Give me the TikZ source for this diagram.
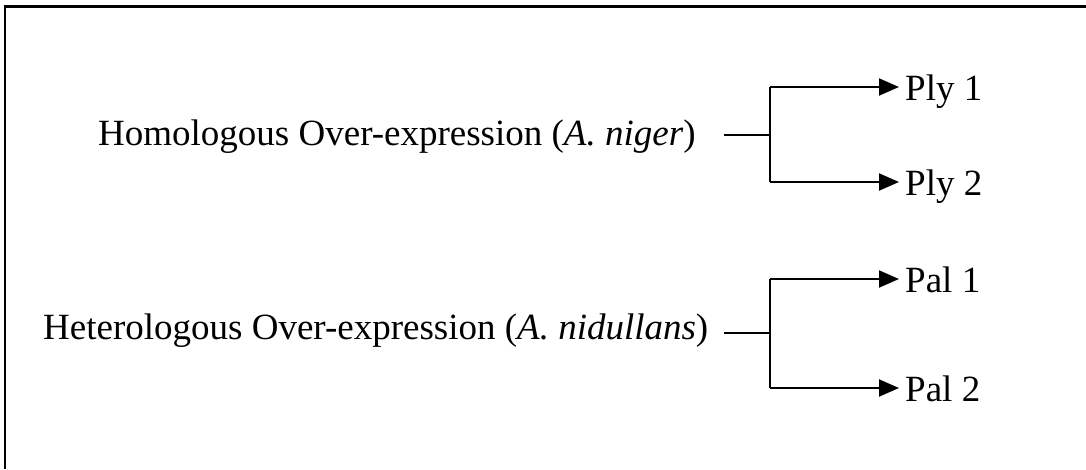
\documentclass[tikz,border=0pt]{standalone}
\usepackage{fontspec}
\setmainfont{Liberation Serif}
\usetikzlibrary{arrows.meta}
\begin{document}
\begin{tikzpicture}[x=1pt,y=-1pt,
  label/.style={anchor=base west,inner sep=0pt,font=\fontsize{37}{40}\selectfont},
  link/.style={line width=2pt},
  branch/.style={line width=2pt,-{Triangle[length=20pt,width=17pt]}}]
\useasboundingbox (0,0) rectangle (1086,469);
% frame (top and left edges)
\draw[line width=2.5pt] (5,469) -- (5,6.5) -- (1086,6.5);

% homologous group
\node[label] (hom) at (98,145) {Homologous Over-expression (\textit{A. niger})};
\node[label] (ply1) at (905,100) {Ply 1};
\node[label] (ply2) at (905,195) {Ply 2};
\coordinate (hs) at (724,135);
\coordinate (hj) at (770,135);
\coordinate (hjt) at (770,87);
\coordinate (hjb) at (770,182);
\coordinate (p1) at (899,87);
\coordinate (p2) at (899,182);
\draw[link] (hs) -- (hj);
\draw[link] (hjt) -- (hjb);
\draw[branch] (hjt) -- (p1);
\draw[branch] (hjb) -- (p2);

% heterologous group
\node[label] (het) at (43,339) {Heterologous Over-expression (\textit{A. nidullans})};
\node[label] (pal1) at (905,292) {Pal 1};
\node[label] (pal2) at (905,401) {Pal 2};
\coordinate (es) at (724,333);
\coordinate (ej) at (770,333);
\coordinate (ejt) at (770,279);
\coordinate (ejb) at (770,388);
\coordinate (q1) at (899,279);
\coordinate (q2) at (899,388);
\draw[link] (es) -- (ej);
\draw[link] (ejt) -- (ejb);
\draw[branch] (ejt) -- (q1);
\draw[branch] (ejb) -- (q2);
\end{tikzpicture}
\end{document}
